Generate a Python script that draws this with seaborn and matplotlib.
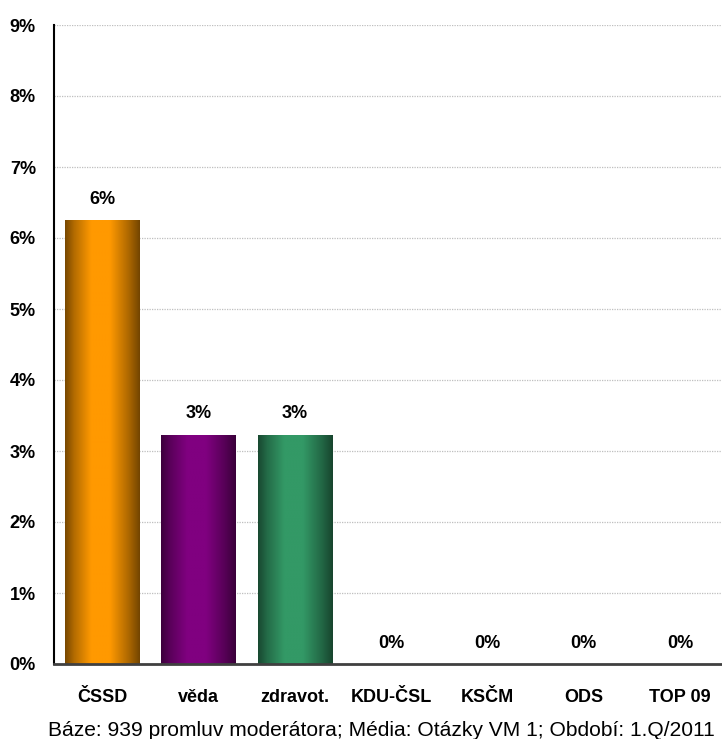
import numpy as np
import pandas as pd
import matplotlib
matplotlib.use("Agg")
import matplotlib.pyplot as plt
from matplotlib.colors import to_rgb
import seaborn as sns

# data (percent)
strany = ["ČSSD", "věda", "zdravot.", "KDU-ČSL", "KSČM", "ODS", "TOP 09"]
podil = [6.25, 3.23, 3.23, 0.0, 0.0, 0.0, 0.0]
popisky = ["6%", "3%", "3%", "0%", "0%", "0%", "0%"]
barvy = ["#FF9900", "#800080", "#339966", "#3366CC", "#3366CC", "#3366CC", "#3366CC"]
y_ticks = list(range(0, 10))
poznamka = "Báze: 939 promluv moderátora; Média: Otázky VM 1; Období: 1.Q/2011"

sns.set_style("white")
plt.rcParams["font.family"] = ["Liberation Sans", "DejaVu Sans"]
plt.rcParams["text.color"] = "black"
plt.rcParams["xtick.color"] = "black"
plt.rcParams["ytick.color"] = "black"

df = pd.DataFrame({"strana": strany, "podil": podil})

fig = plt.figure(figsize=(7.22, 7.39), dpi=100)
# axes runs a bit past the right edge, like the original
ax = fig.add_axes([54 / 722, (739 - 664) / 739, (96.3 * 7) / 722, (664 - 25) / 739])

sns.barplot(data=df, x="strana", y="podil", hue="strana", palette=barvy,
            width=0.77, legend=False, ax=ax, saturation=1)

# cylinder-like shading on each bar
tt = np.linspace(0, 1, 200)
jas = np.interp(tt, [0, 0.12, 0.35, 0.6, 0.85, 1], [0.47, 0.7, 1, 1, 0.68, 0.45])
for patch, c in zip(ax.patches, barvy):
    h = patch.get_height()
    if h <= 0:
        continue
    rgb = np.array(to_rgb(c))
    img = (jas[:, None] * rgb[None, :])[None, :, :]
    x0 = patch.get_x()
    w = patch.get_width()
    im = ax.imshow(img, extent=[x0, x0 + w, 0, h], aspect="auto",
                   origin="lower", zorder=patch.get_zorder() + 0.1)
    im.set_clip_path(patch)

ax.set_xlim(-0.5, len(strany) - 0.5)
ax.set_ylim(0, 9)
ax.set_yticks(y_ticks)
ax.set_yticklabels([f"{v}%" for v in y_ticks], fontsize=13, fontweight="bold")
ax.set_xticks(np.arange(len(strany) + 1) - 0.5, minor=False)
ax.set_xticklabels([])
ax.set_xticks(np.arange(len(strany)), minor=True)
ax.set_xticklabels(strany, minor=True, fontsize=13, fontweight="bold")
ax.tick_params(axis="x", which="major", length=7, width=1, color="#404040", direction="out")
ax.tick_params(axis="x", which="minor", length=0, pad=18)
ax.tick_params(axis="y", length=7, width=1.2, color="black", pad=6, direction="out")
ax.set_xlabel("")
ax.set_ylabel("")

ax.grid(axis="y", color="#bfbfbf", linestyle=(0, (1, 1)), linewidth=0.9)
ax.set_axisbelow(True)
for s in ["top", "right"]:
    ax.spines[s].set_visible(False)
ax.spines["left"].set_color("black")
ax.spines["left"].set_linewidth(1.5)
ax.spines["bottom"].set_color("#404040")
ax.spines["bottom"].set_linewidth(2)

for i, (v, t) in enumerate(zip(podil, popisky)):
    ax.annotate(t, (i, v), xytext=(0, 9), textcoords="offset points",
                ha="center", va="bottom", fontsize=13, fontweight="bold")

fig.text(48 / 722, 1 - 731 / 739, poznamka, ha="left", va="center", fontsize=15.1)

fig.savefig("out.png", dpi=100)
